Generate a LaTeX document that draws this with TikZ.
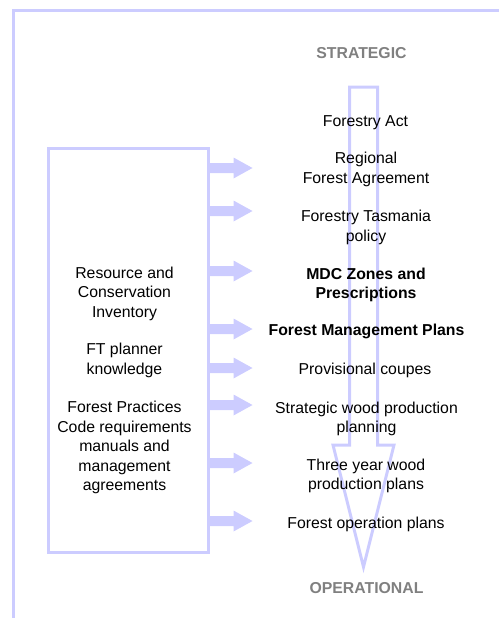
\documentclass[tikz,border=0pt]{standalone}
\usepackage{fontspec}
\setmainfont{Liberation Sans}
\usepackage{xcolor}
\definecolor{lav}{HTML}{CCCCFF}
\definecolor{levelgray}{HTML}{808080}

\begin{document}
\begin{tikzpicture}[x=1pt,y=-1pt,
    frameline/.style={draw=lav,line width=3pt},
    lbl/.style={font=\fontsize{15.8}{19.5}\selectfont,align=center,inner sep=0pt,yshift=-1.5pt},
    level/.style={lbl,font=\fontsize{15.8}{19.5}\selectfont\bfseries,text=levelgray},
    key/.style={lbl,font=\fontsize{15.8}{19.5}\selectfont\bfseries}]
                \useasboundingbox (0,0) rectangle (499,618);
                % outer frame (only top and left show)
                \draw[frameline] (13,618)--(13,11)--(499,11);
                % big strategic -> operational arrow
                \draw[frameline] (349.5,87)--(349.5,445)--(333,445)--(363.5,567)--(394,445)--(377.5,445)--(377.5,87)--cycle;
                % box of inputs
                \node[frameline,minimum width=160pt,minimum height=403.5pt,inner sep=0pt] (inputs) at (128,350.25) {};
                \foreach \y in {168,211,271,329,368,405,463,521}
                    \fill[lav] (inputs.east |- 0,\y) ++(0,-5) -- ++(24,0) -- ++(0,-5.5) -- ++(19,10.5) -- ++(-19,10.5) -- ++(0,-5.5) -- ++(-24,0) -- cycle;
                \node[level] (strategic) at (361.5,52) {STRATEGIC};
                \node[level] (operational) at (366.5,587) {OPERATIONAL};
                \node[lbl] (act) at (365.5,121) {Forestry Act};
                \node[lbl] (rfa) at (366,168) {Regional\\Forest Agreement};
                \node[lbl] (ftpolicy) at (366,226) {Forestry Tasmania\\policy};
                \node[key] (mdc) at (366,283.5) {MDC Zones and\\Prescriptions};
                \node[key] (fmp) at (366.5,330) {Forest Management Plans};
                \node[lbl] (coupes) at (365,369) {Provisional coupes};
                \node[lbl] (swpp) at (366.5,417.5) {Strategic wood production\\planning};
                \node[lbl] (threeyear) at (366,474.5) {Three year wood\\production plans};
                \node[lbl] (fop) at (366,523) {Forest operation plans};
                \node[lbl] (rci) at (124.5,292) {Resource and\\Conservation\\Inventory};
                \node[lbl] (ftknow) at (124.5,359) {FT planner\\knowledge};
                \node[lbl] (fpc) at (124.5,446) {Forest Practices\\Code requirements\\manuals and\\management\\agreements};
            \end{tikzpicture}
\end{document}
